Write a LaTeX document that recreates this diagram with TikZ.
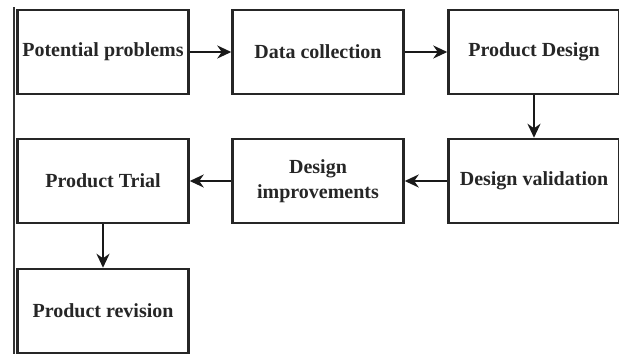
\documentclass[tikz,border=0pt]{standalone}
\usepackage{fontspec}
\setmainfont{Liberation Serif}
\usepackage{tikz}
\usetikzlibrary{arrows.meta}

\tikzset{
  stage/.style={draw=black!85, line width=2.5pt, minimum width=171pt, minimum height=84pt,
    inner sep=0pt, align=center, text=black!85, font=\bfseries\fontsize{20}{25}\selectfont},
  flow/.style={draw=black!90, line width=2.5pt, -{Stealth[length=14pt,width=13pt]}}
}

\begin{document}
\begin{tikzpicture}[x=1pt,y=-1pt]
  \useasboundingbox (0,0) rectangle (619,354);
  \draw[black!80, line width=2pt] (14,7) -- (14,354);

  \node[stage] (problems) at (103,52) {Potential problems};
  \node[stage] (collect)  at (318,52) {Data collection};
  \node[stage] (design)   at (534,52) {Product Design};
  \node[stage] (valid)    at (534,181) {Design validation};
  \node[stage] (improve)  at (318,181) {Design\\improvements};
  \node[stage] (trial)    at (103,181) {Product Trial};
  \node[stage] (revision) at (103,311) {Product revision};

  \draw[flow] (problems) -- (collect);
  \draw[flow] (collect) -- (design);
  \draw[flow] (design) -- (valid);
  \draw[flow] (valid) -- (improve);
  \draw[flow] (improve) -- (trial);
  \draw[flow] (trial) -- (revision);
\end{tikzpicture}
\end{document}
